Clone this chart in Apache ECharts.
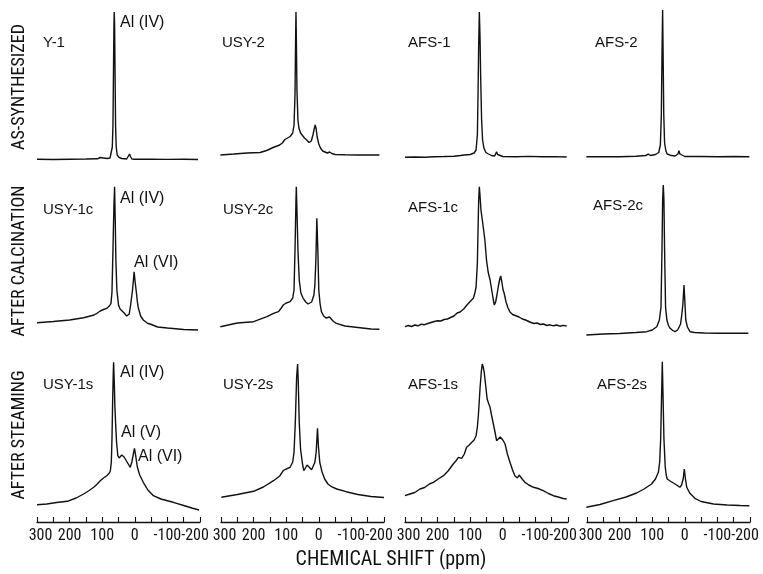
<!DOCTYPE html>
<html>
<head>
<meta charset="utf-8">
<script src="https://cdn.jsdelivr.net/npm/echarts@6/dist/echarts.min.js"></script>
<style>html,body{margin:0;padding:0;background:#fff}#c{width:763px;height:574px}</style>
</head>
<body>
<div id="c"></div>
<script>
// ---- data: [chemical shift (ppm), intensity (arb.)] ----
const rowTitles = ['AS-SYNTHESIZED', 'AFTER CALCINATION', 'AFTER STEAMING'];
const panelNames = [
  ['Y-1', 'USY-2', 'AFS-1', 'AFS-2'],
  ['USY-1c', 'USY-2c', 'AFS-1c', 'AFS-2c'],
  ['USY-1s', 'USY-2s', 'AFS-1s', 'AFS-2s']
];
const tickValues = [300, 200, 100, 0, -100, -200];
const axisTitle = 'CHEMICAL SHIFT (ppm)';

const y1 = [[300,5.7],[250,5.5],[200,5.8],[150,6],[115,6.2],[106,7.5],[100,6.2],[85,6.5],[76,7],[72,9],[69,18],[67,40],[65.5,90],[64,140],[63,153],[62,140],[60.5,90],[59,40],[57,18],[54,10],[48,7.5],[40,6.5],[25,6],[19,8],[16,11],[13.5,8.5],[9,6],[0,5.8],[-50,5.8],[-100,5.6],[-150,5.7],[-194,5.5]];
const usy2 = [[302,10],[260,11],[220,12],[180,12.5],[160,14.5],[140,17.5],[120,20],[112,22],[104,25.5],[96,27],[88,28.5],[80,32],[76,40],[73,70],[71,130],[70,153],[69,130],[67,75],[64,45],[61,37],[56,32],[52,30],[44,27],[37,25],[30,22.5],[27,21.5],[23,24],[18,30],[14,36],[11,40],[8,36],[5,28],[0,21],[-5,17],[-12,14],[-18,12.5],[-26,12],[-33,13],[-40,11.5],[-50,10.5],[-80,10.2],[-120,10],[-160,10],[-186,10]];
const afs1 = [[300,7.8],[270,8],[240,7.8],[210,8.3],[180,8.5],[150,8.8],[130,9.5],[118,10],[113,9.8],[100,10.5],[88,12],[82,15],[78,30],[76,70],[74,120],[72,153],[70,130],[68,90],[65,45],[62,25],[58,17],[52,12.5],[44,11],[35,9.5],[25,9],[21,11],[19,13.3],[16,10.5],[12,9],[0,8.5],[-40,8.3],[-80,8.6],[-120,8.2],[-160,8.4],[-196,8]];
const afs2 = [[302,8.2],[250,8.4],[200,8.3],[150,8.7],[120,9.5],[112,10.8],[105,9.5],[90,10.5],[80,12.5],[75,20],[72,50],[70,110],[68,155],[66.5,110],[64.5,50],[62,22],[58,14],[54,11],[45,9.8],[30,9],[21,11],[18,14.3],[15,11],[10,9],[0,8.5],[-50,8.5],[-100,8.3],[-150,8.5],[-198,8.3]];

const usy1c = [[300,17.3],[250,18.5],[200,20],[157,22.3],[125,25],[116,26.7],[106,29],[96,30.5],[86,31.7],[78,34],[73,36.7],[70,48],[67,90],[64,135],[62,153.3],[60,120],[58,80],[55,50],[50,35],[45,31],[40,30],[32,26.7],[25,24],[21,22.3],[17,26],[12,37],[7,50],[2,68.3],[-1,58],[-4,50],[-8,38],[-11,31.7],[-18,24],[-26,20],[-40,16.5],[-47,16],[-52,15],[-70,13],[-100,12],[-150,10.5],[-194,10]];
const usy2c = [[302,13.3],[250,17],[200,18.3],[159,23.3],[139,26.7],[124,28.3],[115,32],[109,35],[100,37],[88,38.3],[80,42],[76,50],[73,90],[70,140],[69,153.3],[67,130],[64,90],[60,60],[55,47],[48,41.7],[40,38],[33,36],[27,35],[22,38],[19,40],[15,45],[12,55],[9,80],[6,121.7],[3,90],[0,50],[-4,36],[-8,28.3],[-15,24],[-22,22],[-28,21.7],[-33,23],[-39,21.7],[-45,18.5],[-54,16.7],[-80,14],[-120,12.5],[-160,11],[-186,10.7]];
const afs1c = [[300,13.3],[290,14.5],[280,13.5],[270,15],[260,14.2],[250,15.8],[240,15.3],[230,16.5],[220,17.5],[210,18.5],[200,19.2],[190,19],[180,20.5],[170,21],[160,22.5],[150,24],[140,27],[131,28],[120,31],[110,35],[106,37],[100,38.5],[90,42],[85,48],[82,53],[80,65],[78,77],[76,110],[74,140],[72,153.3],[70,145],[67,130],[62,118],[58,108],[55,100],[50,80],[45,68],[39,60],[33,48],[29,40],[26,35],[22,38],[18,45],[14,53],[10,60],[6.5,64],[3,58],[-1,50],[-4,47],[-10,38],[-16,32],[-22,28],[-30,25.5],[-38,24.5],[-43,25],[-50,23],[-60,21],[-70,20],[-83,18],[-95,16.5],[-105,17],[-115,15.5],[-125,16],[-135,14.5],[-145,15.2],[-155,14.2],[-165,15],[-175,13.8],[-185,14.6],[-196,14]];
const afs2c = [[302,5],[250,6],[200,6.5],[150,7.5],[117,8.3],[100,10],[86,13.3],[78,20],[73,33],[70,90],[68,140],[66,155],[64,140],[62,90],[59,33],[55,20],[50,14.5],[45,11.7],[37,9.5],[30,8.3],[22,10],[17,13.3],[13,16],[10,23.3],[6,35],[2.5,55],[0,40],[-3,20],[-8,13],[-16,8.3],[-30,7.5],[-60,7],[-100,6.8],[-150,6.7],[-195,6.7]];

const usy1s = [[300,17.3],[270,18],[240,19.5],[207,20.7],[180,24],[157,28],[140,31.5],[126,34.7],[115,38],[106,41.3],[96,44],[86,46.3],[78,49],[75,51.3],[72,60],[70,83],[68,120],[66,150],[65,159.7],[63,140],[61,115],[59,99.7],[56,80],[52,66.3],[48,64],[44,65],[40,67],[37,67],[33,65],[27,63],[20,58],[14,54.7],[9,60],[5,67],[1,73.7],[-2,68],[-5,61],[-8,54.7],[-15,47],[-26,39.7],[-40,32],[-57,26.3],[-80,23],[-118,19.7],[-150,16.5],[-175,14],[-197,12]];
const usy2s = [[299,24.7],[250,27.5],[200,30.7],[170,35],[139,41.3],[120,46],[109,51.3],[100,53],[88,54.7],[80,60],[76,69.7],[72,100],[68,145],[65,158],[63,140],[60,100],[56,73],[50,58],[46,51.3],[41,54],[36,57],[30,55],[22,52.3],[17,54],[12,59.7],[8,70],[4,93.7],[1,75],[-3,59.7],[-10,50],[-18,43],[-28,38],[-39,35.3],[-55,33],[-84,30.3],[-120,27.5],[-160,25.5],[-200,24.5]];
const afs1s = [[300,26.3],[285,28],[270,29.5],[254,33],[240,34.5],[225,38],[213,39.7],[198,43],[182,46.3],[168,51],[152,58],[144,61],[136,64.7],[126,63.7],[118,68],[111,74.7],[103,77],[95,79.7],[88,82],[82,86.3],[78,95],[75,106.3],[72,122],[70,133],[66,150],[63,158],[60,155],[57,149.7],[52,135],[48,123],[43,118],[39,114.7],[34,106],[29,98],[24,90],[19,81.3],[13,83],[8,85],[5.5,84.7],[0,82],[-7,78],[-14,68],[-22,59.7],[-30,52],[-37,46.3],[-45,44],[-50,47],[-55,46.3],[-62,42],[-68,39.7],[-80,37],[-94,34.7],[-108,33.5],[-124,31.3],[-140,28.5],[-155,26.3],[-170,25],[-185,23.5],[-196,23]];
const afs2s = [[302,14.7],[260,17.5],[220,21.3],[180,25],[148,29],[125,33],[102,38],[90,43],[81,49.7],[77,60],[74,83],[71,130],[69,160.3],[67,130],[64,83],[60,55],[57,47],[54,43],[45,41],[35,39],[25,37],[15,34.7],[10,37],[5,43],[1.5,53],[-2,43],[-6,34.7],[-15,29],[-31,23.7],[-50,20.5],[-88,18],[-130,17],[-170,16.5],[-198,16.3]];

const spectra = [
  [y1, usy2, afs1, afs2],
  [usy1c, usy2c, afs1c, afs2c],
  [usy1s, usy2s, afs1s, afs2s]
];

// ---- layout ----
const colLeft = [37, 221, 405, 587];
const colWidth = 163;
const rowBottom = [165, 340, 522];
const rowHeight = 160;
const NARROW = "'Roboto Condensed', 'DejaVu Sans Condensed', sans-serif";
const SANS = "'Liberation Sans', Arial, sans-serif";
const labelText = { fontSize: 16, fontFamily: NARROW, color: '#111' };

const grids = [], xAxes = [], yAxes = [], series = [];
let idx = 0;
for (let r = 0; r < 3; r++) {
  for (let c = 0; c < 4; c++) {
    grids.push({ left: colLeft[c], width: colWidth, top: rowBottom[r] - rowHeight, height: rowHeight });
    const showAxis = r === 2;
    xAxes.push({
      gridIndex: idx, type: 'value', inverse: true, min: -200, max: 300, interval: 50,
      show: showAxis,
      axisLine: { show: true, onZero: false, lineStyle: { color: '#111', width: 1.3 } },
      axisTick: { show: true, inside: true, length: 5, lineStyle: { color: '#111', width: 1.1 } },
      splitLine: { show: false },
      axisLabel: {
        show: true, margin: 6, color: '#111', fontSize: 16, fontFamily: NARROW,
        formatter: v => {
          if (tickValues.indexOf(v) < 0) return '';
          if (v === -200) return '{lo|' + v + '}';
          if (v === 300) return '{hi|' + v + '}';
          return String(v);
        },
        rich: {
          lo: Object.assign({ padding: [0, 10, 0, 0] }, labelText),
          hi: Object.assign({ padding: [0, 0, 0, 7] }, labelText)
        }
      }
    });
    yAxes.push({ gridIndex: idx, type: 'value', min: 0, max: rowHeight, show: false });
    series.push({
      type: 'line', xAxisIndex: idx, yAxisIndex: idx, data: spectra[r][c],
      showSymbol: false, clip: false, animation: false,
      lineStyle: { color: '#111', width: 1.4 }
    });
    idx++;
  }
}

const graphics = [];
// panel labels
const labelPos = [
  [[43, 43], [222, 43], [408, 43], [595, 43]],
  [[43, 210], [223, 210], [408, 208], [593, 206]],
  [[43, 385], [223, 385], [408, 385], [597, 385]]
];
for (let r = 0; r < 3; r++) for (let c = 0; c < 4; c++) {
  graphics.push({ type: 'text', x: labelPos[r][c][0], y: labelPos[r][c][1],
    style: { text: panelNames[r][c], font: '15px ' + SANS, fill: '#111', textAlign: 'left', textVerticalAlign: 'middle' } });
}
// peak annotations
const annotations = [
  ['Al (IV)', 120, 23], ['Al (IV)', 120, 199], ['Al (VI)', 134, 263],
  ['Al (IV)', 120, 373], ['Al (V)', 121, 433], ['Al (VI)', 138, 457]
];
annotations.forEach(a => graphics.push({ type: 'text', x: a[1], y: a[2],
  style: { text: a[0], font: '16px ' + SANS, fill: '#111', textAlign: 'left', textVerticalAlign: 'middle' } }));
// row titles (vertical)
const rowTitleY = [87, 261, 435];
rowTitles.forEach((t, i) => graphics.push({ type: 'text', x: 19, y: rowTitleY[i], rotation: Math.PI / 2,
  style: { text: t, font: '18px ' + NARROW, fill: '#111', textAlign: 'center', textVerticalAlign: 'middle' } }));
// axis title
graphics.push({ type: 'text', x: 391, y: 560,
  style: { text: axisTitle, font: '20px ' + NARROW, fill: '#111', textAlign: 'center', textVerticalAlign: 'middle' } });

const chart = echarts.init(document.getElementById('c'), null, { renderer: 'canvas' });
chart.setOption({
  backgroundColor: '#fff',
  animation: false,
  grid: grids, xAxis: xAxes, yAxis: yAxes, series: series,
  graphic: graphics
});
</script>
</body>
</html>
